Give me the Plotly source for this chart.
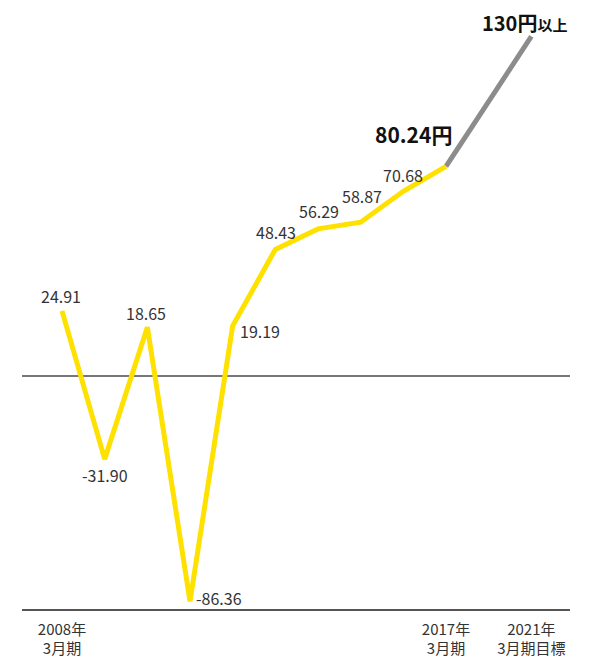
import plotly.graph_objects as go

# Data
years = ["2008", "2009", "2010", "2011", "2012", "2013", "2014", "2015", "2016", "2017"]
x_pos = [0, 1, 2, 3, 4, 5, 6, 7, 8, 9]
eps = [24.91, -31.90, 18.65, -86.36, 19.19, 48.43, 56.29, 58.87, 70.68, 80.24]
target_x = [9, 11]
target_vals = [80.24, 130]
tick_vals = [0, 9, 11]
tick_text = ["2008年<br>3月期", "2017年<br>3月期", "2021年<br>3月期目標"]

FONT = "Noto Sans CJK JP"
YELLOW = "#FFE100"
GRAY = "#8C8C8C"

fig = go.Figure()
fig.add_trace(go.Scatter(x=target_x, y=target_vals, mode="lines",
                         line=dict(color=GRAY, width=5), hoverinfo="skip"))
fig.add_trace(go.Scatter(x=x_pos, y=eps, mode="lines",
                         line=dict(color=YELLOW, width=5), hoverinfo="skip"))

# label placements (anchor, shifts)
place = {
    0: dict(xanchor="center", yanchor="bottom", xshift=-1, yshift=1),
    1: dict(xanchor="center", yanchor="top", xshift=0, yshift=-2),
    2: dict(xanchor="center", yanchor="bottom", xshift=-1, yshift=0),
    3: dict(xanchor="left", yanchor="middle", xshift=4, yshift=3),
    4: dict(xanchor="left", yanchor="middle", xshift=5, yshift=-5),
    5: dict(xanchor="center", yanchor="bottom", xshift=1, yshift=3),
    6: dict(xanchor="center", yanchor="bottom", xshift=1, yshift=4),
    7: dict(xanchor="center", yanchor="bottom", xshift=1, yshift=12),
    8: dict(xanchor="center", yanchor="bottom", xshift=0, yshift=2),
}
annotations = []
for i in range(9):
    v = eps[i]
    annotations.append(dict(x=x_pos[i], y=v, text=f"{v:.2f}", showarrow=False,
                            font=dict(family=FONT, size=16, color="#333333"),
                            **place[i]))
annotations.append(dict(x=x_pos[9], y=eps[9], text=f"<b>{eps[9]:.2f}円</b>",
                        showarrow=False, xanchor="right", yanchor="middle",
                        xshift=8, yshift=32,
                        font=dict(family=FONT, size=21, color="#111111")))
annotations.append(dict(x=target_x[1], y=target_vals[1],
                        text=f"<b>{target_vals[1]:.0f}円<span style='font-size:15px'>以上</span></b>",
                        showarrow=False, xanchor="center", yanchor="middle",
                        xshift=-7, yshift=14, borderpad=0,
                        font=dict(family=FONT, size=20, color="#111111")))

fig.update_layout(
    width=600, height=662,
    margin=dict(l=14, r=38, t=12, b=59),
    paper_bgcolor="white", plot_bgcolor="white",
    showlegend=False,
    annotations=annotations,
    xaxis=dict(range=[-0.9375, 11.906], tickvals=tick_vals, ticktext=tick_text,
               showgrid=False, zeroline=False, showline=True,
               linecolor="#555555", linewidth=1.5, ticks="",
               ticklabelstandoff=6,
               tickfont=dict(family=FONT, size=15, color="#333333")),
    yaxis=dict(range=[-89.3, 136.3], showgrid=False, showticklabels=False,
               zeroline=True, zerolinecolor="#777777", zerolinewidth=2,
               showline=False),
)

fig.write_html("out.html")
